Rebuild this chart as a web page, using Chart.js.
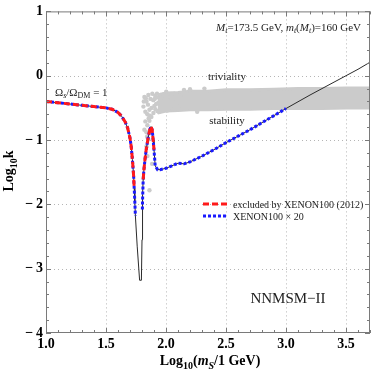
<!DOCTYPE html>
<html>
<head>
<meta charset="utf-8">
<script src="https://cdn.jsdelivr.net/npm/chart.js@4.4.1/dist/chart.umd.min.js"></script>
<style>
  html, body { margin: 0; padding: 0; background: #fff; }
  canvas { display: block; }
</style>
</head>
<body>
<canvas id="plot" width="374" height="378"></canvas>
<script>
// Datos
const xTicks = [1.0, 1.5, 2.0, 2.5, 3.0, 3.5];
const yTicks = [1, 0, -1, -2, -3, -4];

// curva completa (Omega_s / Omega_DM = 1)
const curveX = [1.0, 1.1, 1.2, 1.3, 1.4, 1.5, 1.55, 1.6, 1.63, 1.66, 1.68, 1.70, 1.71, 1.72, 1.73, 1.735, 1.74, 1.745,
  1.76, 1.78, 1.795, 1.80, 1.803, 1.806, 1.81, 1.815, 1.825, 1.835, 1.85, 1.865, 1.875, 1.885, 1.893, 1.90, 1.91,
  1.93, 1.95, 2.0, 2.05, 2.1, 2.15, 2.2, 2.3, 2.4, 2.5, 2.6, 2.7, 2.8, 2.9, 3.0, 3.2, 3.4, 3.6, 3.7];
const curveY = [-0.40, -0.42, -0.44, -0.46, -0.48, -0.50, -0.52, -0.57, -0.63, -0.72, -0.81, -0.97, -1.10, -1.30, -1.55, -1.75, -1.95, -2.18,
  -2.65, -3.18, -3.18, -2.55, -2.08, -1.85, -1.61, -1.48, -1.30, -1.15, -0.98, -0.84, -0.79, -0.84, -1.00, -1.15, -1.40,
  -1.46, -1.46, -1.44, -1.40, -1.36, -1.37, -1.34, -1.25, -1.15, -1.04, -0.94, -0.84, -0.73, -0.62, -0.51, -0.30, -0.10, 0.10, 0.21];

// tramos excluidos (rangos en x)
const redRanges = [[1.0, 1.735], [1.81, 1.90]];
const blueRanges = [[1.0, 1.745], [1.803, 3.0]];

// banda gris (triviality / stability)
const bandX = [1.93, 2.0, 2.1, 2.2, 2.35, 2.5, 2.7, 2.9, 3.1, 3.3, 3.5, 3.7];
const bandTop = [-0.30, -0.27, -0.26, -0.24, -0.24, -0.22, -0.22, -0.21, -0.20, -0.20, -0.19, -0.19];
const bandBottom = [-0.58, -0.55, -0.54, -0.53, -0.53, -0.52, -0.52, -0.51, -0.51, -0.51, -0.50, -0.50];

// puntos sueltos de la zona izquierda
const ptsX = [1.820, 1.837, 1.853, 1.870, 1.886, 1.903, 1.920, 1.936, 1.953, 1.969, 1.986, 2.002, 2.019, 2.036, 2.052, 2.069,
  2.085, 2.102, 2.118, 1.812, 1.828, 1.845, 1.862, 1.878, 1.828, 1.845, 1.837, 1.862, 1.853, 1.870, 1.820, 1.837,
  1.862, 1.884, 1.845, 1.895, 1.912, 1.928, 1.815, 1.832, 1.850, 1.866, 1.894, 1.910, 1.940, 1.960, 1.978, 2.010, 1.856, 1.842,
  1.918, 1.925, 1.905, 1.880, 2.150, 2.200, 2.260, 2.320];
const ptsY = [-0.33, -0.40, -0.30, -0.36, -0.28, -0.47, -0.34, -0.42, -0.30, -0.50, -0.37, -0.25, -0.44, -0.33, -0.53, -0.28,
  -0.39, -0.48, -0.31, -0.48, -0.56, -0.60, -0.53, -0.64, -0.71, -0.77, -0.88, -0.70, -0.99, -0.84, -0.84, -1.10,
  -1.78, -1.37, -1.25, -0.58, -0.52, -0.55, -0.40, -0.35, -0.45, -0.62, -0.38, -0.31, -0.56, -0.45, -0.29, -0.54, -0.66, -0.95,
  -0.44, -0.28, -0.36, -0.50, -0.22, -0.21, -0.56, -0.20];

const FONT = "'Liberation Serif', 'DejaVu Serif', serif";
const RED = '#ff1a1a';
const BLUE = '#1a1aff';
const GRAY = '#cbcbcb';

function segment(ranges) {
    const pts = [];
    ranges.forEach((r, i) => {
        if (i > 0) pts.push({ x: r[0], y: null });
        curveX.forEach((x, j) => {
            if (x >= r[0] && x <= r[1]) pts.push({ x, y: curveY[j] });
        });
    });
    return pts;
}

// texto con subindices
function drawRich(ctx, parts, x, y, align) {
    let total = 0;
    parts.forEach(p => { ctx.font = p.f; total += ctx.measureText(p.t).width; });
    let cx = align === 'center' ? x - total / 2 : x;
    ctx.textBaseline = 'alphabetic';
    ctx.textAlign = 'left';
    parts.forEach(p => {
        ctx.font = p.f;
        ctx.fillText(p.t, cx, y + (p.dy || 0));
        cx += ctx.measureText(p.t).width;
    });
}

const framePlugin = {
    id: 'frame',
    beforeDatasetsDraw(chart) {
        const { ctx, chartArea: a, scales } = chart;
        ctx.save();
        ctx.strokeStyle = '#b5b5b5';
        ctx.lineWidth = 1;
        ctx.setLineDash([1, 3]);
        xTicks.forEach(v => {
            const px = Math.round(scales.x.getPixelForValue(v)) + 0.5;
            if (px <= a.left + 1 || px >= a.right - 1) return;
            ctx.beginPath(); ctx.moveTo(px, a.top); ctx.lineTo(px, a.bottom); ctx.stroke();
        });
        yTicks.forEach(v => {
            const py = Math.round(scales.y.getPixelForValue(v)) + 0.5;
            if (py <= a.top + 1 || py >= a.bottom - 1) return;
            ctx.beginPath(); ctx.moveTo(a.left, py); ctx.lineTo(a.right, py); ctx.stroke();
        });
        ctx.restore();
    },
    afterDatasetsDraw(chart) {
        const { ctx, chartArea: a, scales } = chart;
        ctx.save();
        ctx.strokeStyle = '#7a7a7a';
        ctx.lineWidth = 1;
        ctx.strokeRect(a.left + 0.5, a.top + 0.5, a.right - a.left - 1, a.bottom - a.top - 1);
        ctx.beginPath();
        // marcas en x: cada 0.1, mayores cada 0.5
        for (let i = 10; i <= 37; i++) {
            const v = i / 10;
            const len = i % 5 === 0 ? 5 : 3;
            const px = Math.round(scales.x.getPixelForValue(v)) + 0.5;
            ctx.moveTo(px, a.bottom); ctx.lineTo(px, a.bottom - len);
            ctx.moveTo(px, a.top); ctx.lineTo(px, a.top + len);
        }
        // marcas en y: cada 0.2, mayores cada 1
        for (let i = -20; i <= 5; i++) {
            const v = i / 5;
            const len = i % 5 === 0 ? 5 : 3;
            const py = Math.round(scales.y.getPixelForValue(v)) + 0.5;
            ctx.moveTo(a.left, py); ctx.lineTo(a.left + len, py);
            ctx.moveTo(a.right, py); ctx.lineTo(a.right - len, py);
        }
        ctx.stroke();
        ctx.restore();
    },
    afterDraw(chart) {
        const { ctx } = chart;
        ctx.save();
        ctx.fillStyle = '#222';
        const r11 = '11px ' + FONT, i11 = 'italic 11px ' + FONT, i8 = 'italic 8px ' + FONT, r8 = '8px ' + FONT;
        const r10 = '10px ' + FONT;
        drawRich(ctx, [
            { t: 'M', f: i11 }, { t: 't', f: i8, dy: 2 }, { t: '=173.5 GeV, ', f: r11 },
            { t: 'm', f: i11 }, { t: 't', f: i8, dy: 2 }, { t: '(', f: r11 },
            { t: 'M', f: i11 }, { t: 't', f: i8, dy: 2 }, { t: ')=160 GeV', f: r11 }
        ], 216, 31, 'left');
        drawRich(ctx, [
            { t: '\u03A9', f: r11 }, { t: 's', f: i8, dy: 2 }, { t: '/\u03A9', f: r11 },
            { t: 'DM', f: r8, dy: 2 }, { t: ' = 1', f: r11 }
        ], 55, 96, 'left');
        drawRich(ctx, [{ t: 'triviality', f: r11 }], 227, 80, 'center');
        drawRich(ctx, [{ t: 'stability', f: r11 }], 227, 124, 'center');
        drawRich(ctx, [{ t: 'NNMSM\u2212II', f: '15px ' + FONT }], 288, 303, 'center');

        // leyenda
        ctx.lineWidth = 3;
        ctx.strokeStyle = RED;
        ctx.setLineDash([6, 3]);
        ctx.beginPath(); ctx.moveTo(203, 204); ctx.lineTo(228, 204); ctx.stroke();
        ctx.strokeStyle = BLUE;
        ctx.setLineDash([3, 2]);
        ctx.beginPath(); ctx.moveTo(203, 216); ctx.lineTo(228, 216); ctx.stroke();
        ctx.setLineDash([]);
        drawRich(ctx, [{ t: 'excluded by XENON100 (2012)', f: r10 }], 233, 207.5, 'left');
        drawRich(ctx, [{ t: 'XENON100 \u00D7 20', f: r10 }], 233, 219.5, 'left');

        // titulos de ejes
        ctx.fillStyle = '#000';
        const b14 = 'bold 14px ' + FONT, b10 = 'bold 10px ' + FONT;
        drawRich(ctx, [
            { t: 'Log', f: b14 }, { t: '10', f: b10, dy: 4 }, { t: '(', f: b14 },
            { t: 'm', f: 'italic bold 14px ' + FONT }, { t: 'S', f: 'italic bold 10px ' + FONT, dy: 4 },
            { t: '/1 GeV)', f: b14 }
        ], 210, 365, 'center');
        ctx.translate(13, 171);
        ctx.rotate(-Math.PI / 2);
        drawRich(ctx, [{ t: 'Log', f: b14 }, { t: '10', f: b10, dy: 4 }, { t: 'k', f: b14 }], 0, 0, 'center');
        ctx.restore();
    }
};

const config = {
    type: 'line',
    data: {
        datasets: [
            {
                label: 'excluded by XENON100 (2012)',
                data: segment(redRanges),
                borderColor: RED,
                borderWidth: 3,
                borderDash: [6, 3],
                pointRadius: 0,
                fill: false,
                spanGaps: false,
                order: 0
            },
            {
                label: 'XENON100 x 20',
                data: segment(blueRanges),
                borderColor: BLUE,
                borderWidth: 3,
                borderDash: [3, 2],
                pointRadius: 0,
                fill: false,
                spanGaps: false,
                order: 1
            },
            {
                label: 'curve',
                data: curveX.map((x, i) => ({ x, y: curveY[i] })),
                borderColor: '#2b2b2b',
                borderWidth: 1,
                pointRadius: 0,
                fill: false,
                order: 2
            },
            {
                label: 'points',
                type: 'scatter',
                data: ptsX.map((x, i) => ({ x, y: ptsY[i] })),
                backgroundColor: GRAY,
                borderWidth: 0,
                pointRadius: 2.2,
                order: 3
            },
            {
                label: 'band top',
                data: bandX.map((x, i) => ({ x, y: bandTop[i] })),
                borderColor: GRAY,
                backgroundColor: GRAY,
                borderWidth: 3,
                pointRadius: 0,
                fill: '+1',
                order: 4
            },
            {
                label: 'band bottom',
                data: bandX.map((x, i) => ({ x, y: bandBottom[i] })),
                borderColor: GRAY,
                borderWidth: 3,
                pointRadius: 0,
                fill: false,
                order: 5
            }
        ]
    },
    options: {
        responsive: false,
        animation: false,
        layout: { padding: { left: 0, right: 2, top: 9, bottom: 0 } },
        plugins: { legend: { display: false }, tooltip: { enabled: false } },
        scales: {
            x: {
                type: 'linear',
                min: 1.0,
                max: 3.7,
                grid: { display: false, drawTicks: false },
                border: { display: false },
                afterBuildTicks: s => { s.ticks = xTicks.map(v => ({ value: v })); },
                afterFit: s => { s.height = 45; },
                ticks: {
                    autoSkip: false,
                    maxRotation: 0,
                    padding: 3,
                    color: '#000',
                    font: { family: FONT, size: 14, weight: 'bold' },
                    callback: v => Number(v).toFixed(1)
                }
            },
            y: {
                type: 'linear',
                min: -4,
                max: 1,
                grid: { display: false, drawTicks: false },
                border: { display: false },
                afterBuildTicks: s => { s.ticks = yTicks.map(v => ({ value: v })); },
                afterFit: s => { s.width = 46; },
                ticks: {
                    autoSkip: false,
                    padding: 3,
                    color: '#000',
                    font: { family: FONT, size: 14, weight: 'bold' },
                    callback: v => v < 0 ? '\u2212\u2009' + Math.abs(v) : String(v)
                }
            }
        }
    },
    plugins: [framePlugin]
};

const graph = new Chart(document.getElementById('plot'), config);
</script>
</body>
</html>
